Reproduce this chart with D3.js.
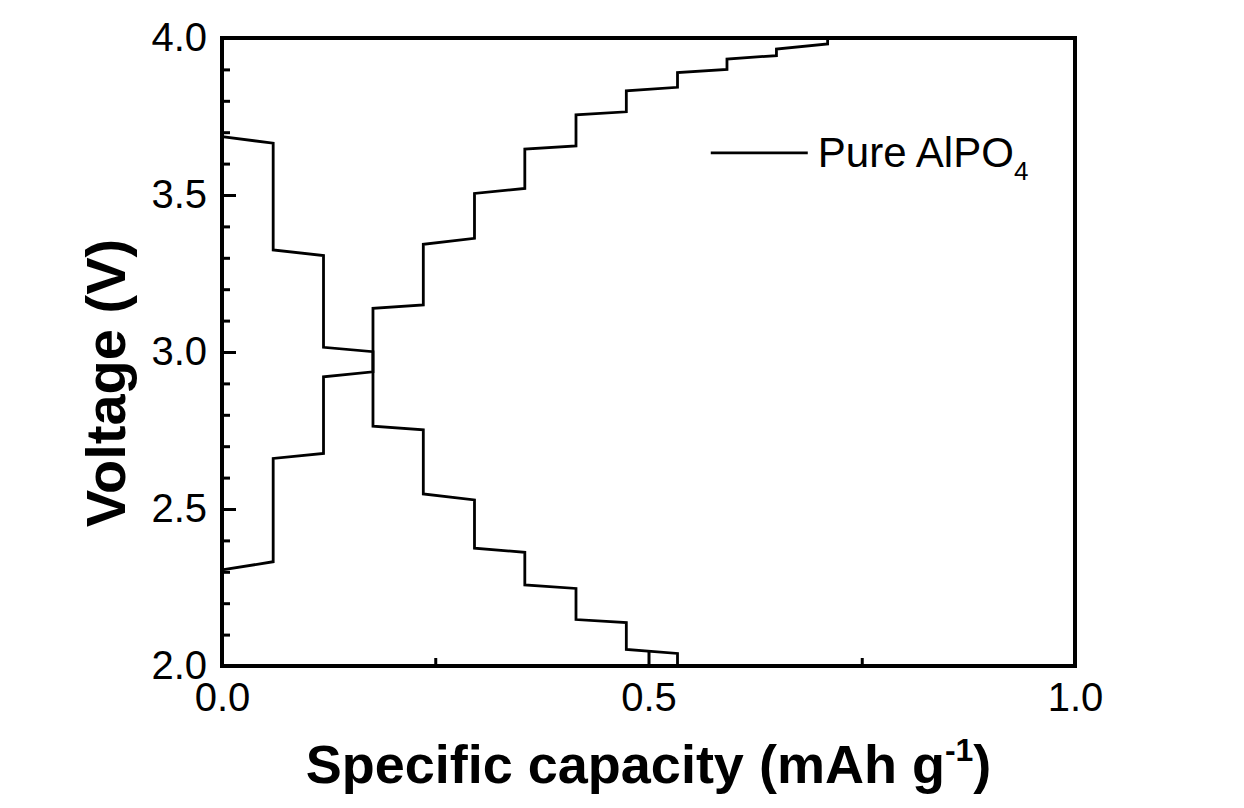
<!DOCTYPE html>
<html>
<head>
<meta charset="utf-8">
<script src="https://cdn.jsdelivr.net/npm/d3@7"></script>
<style>
  body { margin: 0; background: #fff; }
  text { font-family: "Liberation Sans", Arial, sans-serif; fill: #000; }
</style>
</head>
<body>
<div id="chart"></div>
<script>
// Discharge curve (starts high, steps down to 2.0 V)
const dischargeCapacity = [0, 0.060, 0.060, 0.119, 0.119, 0.177, 0.177, 0.236, 0.236, 0.296, 0.296,
    0.355, 0.355, 0.415, 0.415, 0.474, 0.474, 0.534, 0.534];
const dischargeVoltage = [3.686, 3.665, 3.325, 3.307, 3.015, 3.001, 2.764, 2.752, 2.548, 2.529, 2.375,
    2.362, 2.258, 2.247, 2.148, 2.138, 2.053, 2.040, 2.0];

// Charge curve (starts low, steps up to 4.0 V)
const chargeCapacity = [0, 0.060, 0.060, 0.119, 0.119, 0.177, 0.177, 0.236, 0.236, 0.296, 0.296,
    0.355, 0.355, 0.415, 0.415, 0.474, 0.474, 0.534, 0.534, 0.592, 0.592, 0.650, 0.650, 0.710, 0.710];
const chargeVoltage = [2.306, 2.332, 2.661, 2.677, 2.921, 2.937, 3.139, 3.150, 3.343, 3.362, 3.505,
    3.521, 3.646, 3.656, 3.755, 3.765, 3.832, 3.843, 3.890, 3.900, 3.933, 3.944, 3.965, 3.981, 4.0];

// Tick values
const xMajorTicks = [0, 0.5, 1.0];
const xMinorTicks = [0.25, 0.75];
const yMajorTicks = [2.0, 2.5, 3.0, 3.5, 4.0];
const yMinorTicks = d3.range(20, 41).map(d => d / 10).filter(d => !yMajorTicks.includes(d));

const legendLabel = 'Pure AlPO';
const legendSub = '4';

// Chart dimensions
const margin = { top: 38, right: 169, bottom: 142, left: 222 };
const width = 1244 - margin.left - margin.right;
const height = 808 - margin.top - margin.bottom;

const root = d3.select('#chart')
    .append('svg')
    .attr('width', 1244)
    .attr('height', 808);

const svg = root.append('g')
    .attr('transform', `translate(${margin.left},${margin.top})`);

// Scales
const xScale = d3.scaleLinear().domain([0, 1]).range([0, width]);
const yScale = d3.scaleLinear().domain([2, 4]).range([height, 0]);

// Minor ticks
svg.append('g')
    .attr('transform', `translate(0,${height})`)
    .call(d3.axisBottom(xScale).tickValues(xMinorTicks).tickSize(-8).tickFormat(''))
    .call(g => g.select('.domain').remove());

svg.append('g')
    .call(d3.axisLeft(yScale).tickValues(yMinorTicks).tickSize(-8).tickFormat(''))
    .call(g => g.select('.domain').remove());

// Major ticks + labels
svg.append('g')
    .attr('class', 'axis x-axis')
    .attr('transform', `translate(0,${height})`)
    .call(d3.axisBottom(xScale).tickValues(xMajorTicks).tickSize(-14).tickPadding(17).tickFormat(d3.format('.1f')))
    .call(g => g.select('.domain').remove());

svg.append('g')
    .attr('class', 'axis y-axis')
    .call(d3.axisLeft(yScale).tickValues(yMajorTicks).tickSize(-14).tickPadding(15).tickFormat(d3.format('.1f')))
    .call(g => g.select('.domain').remove());

svg.selectAll('.tick line').attr('stroke', '#000').attr('stroke-width', 3);
svg.selectAll('.tick text').attr('font-size', 40).attr('font-family', '"Liberation Sans", Arial, sans-serif');

// Curves
const line = d3.line()
    .x(d => xScale(d[0]))
    .y(d => yScale(d[1]));

const curves = [
    d3.zip(dischargeCapacity, dischargeVoltage),
    d3.zip(chargeCapacity, chargeVoltage)
];

svg.selectAll('.curve')
    .data(curves)
    .enter()
    .append('path')
    .attr('class', 'curve')
    .attr('d', line)
    .attr('fill', 'none')
    .attr('stroke', '#000')
    .attr('stroke-width', 2.8)
    .attr('stroke-linejoin', 'miter');

// Frame
svg.append('rect')
    .attr('x', 0)
    .attr('y', 0)
    .attr('width', width)
    .attr('height', height)
    .attr('fill', 'none')
    .attr('stroke', '#000')
    .attr('stroke-width', 4);

// Legend
const legend = svg.append('g')
    .attr('transform', `translate(${xScale(0.573)},${yScale(3.634)})`);

legend.append('line')
    .attr('x1', 0)
    .attr('x2', 97)
    .attr('stroke', '#000')
    .attr('stroke-width', 2.8);

const legendText = legend.append('text')
    .attr('x', 107)
    .attr('y', 14)
    .attr('font-size', 42);
legendText.append('tspan').text(legendLabel);
legendText.append('tspan')
    .attr('font-size', 26)
    .attr('dy', 13)
    .text(legendSub);

// Axis titles
const xTitle = root.append('text')
    .attr('x', margin.left + width / 2)
    .attr('y', 783)
    .attr('text-anchor', 'middle')
    .attr('font-size', 54)
    .attr('font-weight', 'bold');
xTitle.append('tspan').text('Specific capacity (mAh g');
xTitle.append('tspan').attr('font-size', 32).attr('dy', -22).text('-1');
xTitle.append('tspan').attr('dy', 22).text(')');

root.append('text')
    .attr('transform', 'translate(125,383) rotate(-90)')
    .attr('text-anchor', 'middle')
    .attr('font-size', 56)
    .attr('font-weight', 'bold')
    .text('Voltage (V)');
</script>
</body>
</html>
